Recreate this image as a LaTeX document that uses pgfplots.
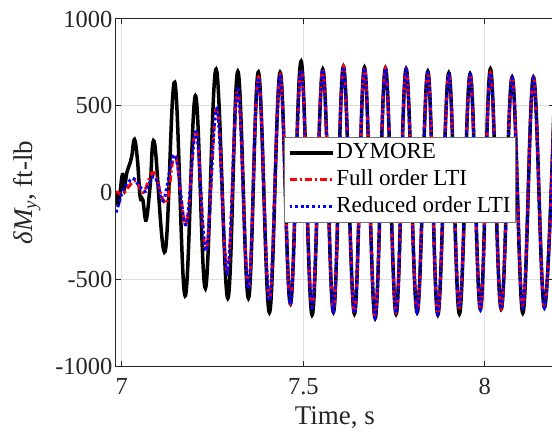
\documentclass[border=0pt]{standalone}
\usepackage{fontspec}
\setmainfont{Liberation Serif}
\usepackage{pgfplots}
\pgfplotsset{compat=1.18}

\definecolor{axgray}{gray}{0.15}

\begin{document}
\begin{tikzpicture}
\begin{axis}[
  name=main, scale only axis,
  width=437.8bp, height=347bp,
  xmin=6.984, xmax=8.19, ymin=-1000, ymax=1000,
  xtick={7,7.5,8}, xticklabels={7,7.5,8},
  ytick={-1000,-500,0,500,1000}, yticklabels={-1000,-500,0,500,1000},
  /pgf/number format/assume math mode=true,
  tick align=inside, major tick length=5bp,
  tick style={axgray, line width=1bp},
  axis line style={axgray, line width=1bp},
  grid=major, major grid style={black!13, line width=1bp},
  tick label style={font=\fontsize{24.5bp}{28bp}\selectfont, text=axgray},
  xticklabel style={yshift=-9bp},
  xlabel={Time, s},
  ylabel={{\itshape δM}\textsubscript{\itshape y}, ft-lb},
  label style={font=\fontsize{27bp}{32bp}\selectfont, text=axgray},
  xlabel style={at={(axis description cs:0.5,0)}, anchor=center, yshift=-52bp},
  ylabel style={at={(axis description cs:-0.2033,0.5)}, anchor=center, rotate=0},
  every axis plot/.append style={smooth, tension=0.65},
  legend cell align=left,
  legend image code/.code={\draw[#1] (0bp,0bp) -- (43bp,0bp);},
  legend style={at={(axis description cs:0.9137,0.66)}, anchor=north east,
    draw=black!55, line width=1bp, fill=white,
    inner xsep=3bp, inner ysep=2bp, column sep=0pt, row sep=0pt,
    font=\fontsize{23bp}{26bp}\selectfont,
    nodes={inner xsep=2bp, inner ysep=3bp, text height=16bp, text depth=5bp}},
]
% DYMORE
\addplot[black, line width=3.5bp] coordinates {
 (6.9843,0) (6.9906,-66) (7.0017,103) (7.0063,16) (7.0138,113) (7.0229,171)
 (7.0275,209) (7.0348,306) (7.0430,190) (7.0504,-23) (7.0579,-42) (7.0669,-159)
 (7.0780,35) (7.0899,287) (7.1193,-340) (7.1459,635) (7.1744,-596) (7.2028,558)
 (7.2304,-552) (7.2598,711) (7.2920,-610) (7.3196,698) (7.3488,-610) (7.3763,694)
 (7.4066,-692) (7.4361,692) (7.4645,-642) (7.4939,756) (7.5242,-706) (7.5537,711)
 (7.5829,-690) (7.6105,727) (7.6408,-700) (7.6684,721) (7.6978,-725) (7.7262,717)
 (7.7556,-701) (7.7832,713) (7.8135,-692) (7.8430,698) (7.8705,-705) (7.9008,690)
 (7.9300,-700) (7.9595,684) (7.9879,-672) (8.0154,712) (8.0450,-672) (8.0752,665)
 (8.1047,-695) (8.1339,665) (8.1642,-663) (8.1930,660)
};
\addlegendentry{DYMORE}
% Full order LTI
\addplot[red, line width=3bp, dash pattern=on 7bp off 3bp on 2bp off 3bp] coordinates {
 (6.9843,2) (6.9900,0) (6.9970,-12) (7.0050,-5) (7.0366,67) (7.0595,0)
 (7.0871,115) (7.1220,-62) (7.1468,219) (7.1771,-182) (7.2047,355) (7.2322,-333)
 (7.2617,485) (7.2909,-459) (7.3196,595) (7.3488,-552) (7.3763,665) (7.4066,-620)
 (7.4361,679) (7.4645,-640) (7.4939,708) (7.5242,-658) (7.5537,711) (7.5829,-680)
 (7.6105,727) (7.6408,-692) (7.6684,721) (7.6978,-718) (7.7262,717) (7.7556,-690)
 (7.7832,710) (7.8135,-686) (7.8430,692) (7.8705,-695) (7.9008,680) (7.9300,-660)
 (7.9595,680) (7.9879,-672) (8.0154,690) (8.0450,-668) (8.0752,662) (8.1047,-660)
 (8.1339,662) (8.1642,-660) (8.1930,660)
};
\addlegendentry{Full order LTI}
% Reduced order LTI
\addplot[blue, line width=3bp, dash pattern=on 2.8bp off 2.8bp] coordinates {
 (6.9843,-115) (6.9935,-52) (7.0027,15) (7.0164,54) (7.0302,83) (7.0394,63)
 (7.0532,25) (7.0651,6) (7.0761,54) (7.0871,92) (7.0990,54) (7.1156,-42)
 (7.1468,214) (7.1771,-186) (7.2047,350) (7.2322,-336) (7.2617,482) (7.2909,-462)
 (7.3196,592) (7.3488,-556) (7.3763,662) (7.4066,-624) (7.4361,676) (7.4645,-644)
 (7.4939,705) (7.5242,-662) (7.5537,708) (7.5829,-684) (7.6105,724) (7.6408,-696)
 (7.6684,718) (7.6978,-722) (7.7262,714) (7.7556,-694) (7.7832,707) (7.8135,-690)
 (7.8430,689) (7.8705,-699) (7.9008,677) (7.9300,-664) (7.9595,677) (7.9879,-676)
 (8.0154,687) (8.0450,-672) (8.0752,659) (8.1047,-664) (8.1339,659) (8.1642,-664)
 (8.1930,657)
};
\addlegendentry{Reduced order LTI}
\end{axis}
\pgfresetboundingbox
\path[use as bounding box] ([xshift=-116bp,yshift=-76bp]main.south west)
  rectangle ([xshift=436bp,yshift=366bp]main.south west);
\end{tikzpicture}
\end{document}
